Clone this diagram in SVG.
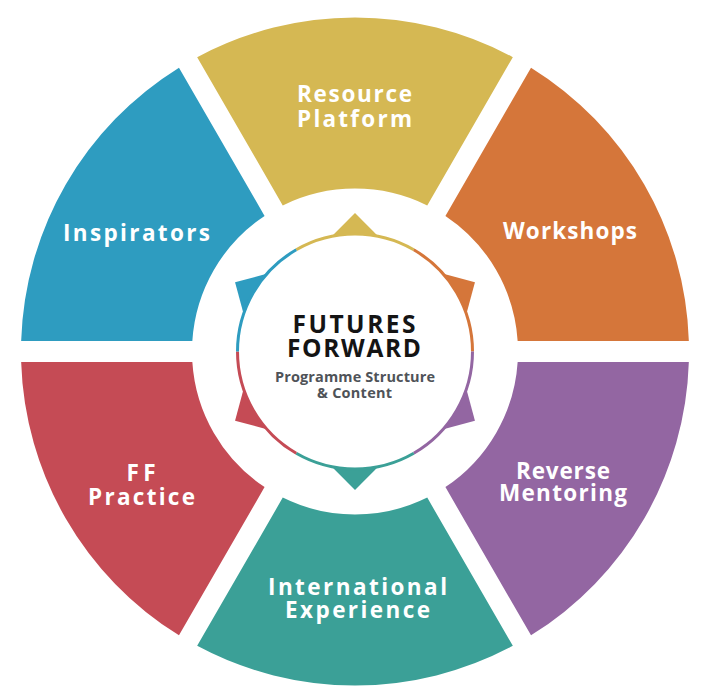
<svg xmlns="http://www.w3.org/2000/svg" xmlns:xlink="http://www.w3.org/1999/xlink" width="709" height="697" viewBox="0 0 709 697">
  <style>
    .lbl { font-family: "Open Sans", Lato, "Liberation Sans", sans-serif; font-weight: 700; font-size: 22.5px; fill: #ffffff; text-anchor: middle; }
    .title { font-family: "Open Sans", Lato, "Liberation Sans", sans-serif; font-weight: 700; font-size: 24.5px; fill: #141414; text-anchor: middle; }
    .sub { font-family: "Open Sans", Lato, "Liberation Sans", sans-serif; font-weight: 700; font-size: 14.5px; fill: #4f5358; text-anchor: middle; }
    .ring { fill: none; stroke-width: 3; }
    .yellow { fill: #D5B853; } .yellowS { stroke: #D5B853; }
    .orange { fill: #D5763A; } .orangeS { stroke: #D5763A; }
    .purple { fill: #9366A2; } .purpleS { stroke: #9366A2; }
    .teal { fill: #3BA097; } .tealS { stroke: #3BA097; }
    .red { fill: #C54B55; } .redS { stroke: #C54B55; }
    .blue { fill: #2E9CC0; } .blueS { stroke: #2E9CC0; }
  </style>
  <defs>
    <polygon id="tri" points="0,-138.5 -22.4,-116 22.4,-116"/>
  </defs>
  <rect width="709" height="697" fill="#ffffff"/>

  <g id="connectors"></g>

  <!-- triangles drawn beneath the central circle -->
  <g id="star">
    <use xlink:href="#tri" class="yellow" transform="translate(355,351.5) rotate(0)"/>
    <use xlink:href="#tri" class="orange" transform="translate(355,351.5) rotate(60)"/>
    <use xlink:href="#tri" class="purple" transform="translate(355,351.5) rotate(120)"/>
    <use xlink:href="#tri" class="teal" transform="translate(355,351.5) rotate(180)"/>
    <use xlink:href="#tri" class="red" transform="translate(355,351.5) rotate(240)"/>
    <use xlink:href="#tri" class="blue" transform="translate(355,351.5) rotate(300)"/>
  </g>

  <g id="center">
    <circle cx="355" cy="351.5" r="117.5" fill="#ffffff"/>
    <path class="ring yellowS" d="M 296.25 249.74 A 117.5 117.5 0 0 1 413.75 249.74"/>
    <path class="ring orangeS" d="M 413.75 249.74 A 117.5 117.5 0 0 1 472.5 351.5"/>
    <path class="ring purpleS" d="M 472.5 351.5 A 117.5 117.5 0 0 1 413.75 453.26"/>
    <path class="ring tealS" d="M 413.75 453.26 A 117.5 117.5 0 0 1 296.25 453.26"/>
    <path class="ring redS" d="M 296.25 453.26 A 117.5 117.5 0 0 1 237.5 351.5"/>
    <path class="ring blueS" d="M 237.5 351.5 A 117.5 117.5 0 0 1 296.25 249.74"/>
    <text class="title" x="354" y="333" textLength="123" lengthAdjust="spacing">FUTURES</text>
    <text class="title" x="354" y="357" textLength="134" lengthAdjust="spacing">FORWARD</text>
    <text class="sub" x="355" y="382" textLength="160" lengthAdjust="spacing">Programme Structure</text>
    <text class="sub" x="354.5" y="398" textLength="75" lengthAdjust="spacing">&amp; Content</text>
  </g>

  <g id="resource-platform">
    <path class="yellow" d="M 197.17 57.15 A 334 334 0 0 1 512.83 57.15 L 427.24 205.38 A 163 163 0 0 0 282.76 205.38 Z"/>
    <text class="lbl" x="354.5" y="102" textLength="115" lengthAdjust="spacing">Resource</text>
    <text class="lbl" x="354.5" y="127" textLength="115" lengthAdjust="spacing">Platform</text>
  </g>

  <g id="workshops">
    <path class="orange" d="M 531.02 67.64 A 334 334 0 0 1 688.84 341.01 L 517.66 341.01 A 163 163 0 0 0 445.42 215.88 Z"/>
    <text class="lbl" x="570" y="239" textLength="134" lengthAdjust="spacing">Workshops</text>
  </g>

  <g id="reverse-mentoring">
    <path class="purple" d="M 688.84 361.99 A 334 334 0 0 1 531.02 635.36 L 445.42 487.12 A 163 163 0 0 0 517.66 361.99 Z"/>
    <text class="lbl" x="563" y="479" textLength="94" lengthAdjust="spacing">Reverse</text>
    <text class="lbl" x="563" y="501" textLength="128" lengthAdjust="spacing">Mentoring</text>
  </g>

  <g id="international-experience">
    <path class="teal" d="M 512.83 645.85 A 334 334 0 0 1 197.17 645.85 L 282.76 497.62 A 163 163 0 0 0 427.24 497.62 Z"/>
    <text class="lbl" x="357.5" y="595" textLength="179" lengthAdjust="spacing">International</text>
    <text class="lbl" x="357.5" y="618" textLength="145" lengthAdjust="spacing">Experience</text>
  </g>

  <g id="ff-practice">
    <path class="red" d="M 178.98 635.36 A 334 334 0 0 1 21.16 361.99 L 192.34 361.99 A 163 163 0 0 0 264.58 487.12 Z"/>
    <text class="lbl" x="141" y="481" textLength="29" lengthAdjust="spacing">FF</text>
    <text class="lbl" x="141.5" y="505" textLength="107" lengthAdjust="spacing">Practice</text>
  </g>

  <g id="inspirators">
    <path class="blue" d="M 21.16 341.01 A 334 334 0 0 1 178.98 67.64 L 264.58 215.88 A 163 163 0 0 0 192.34 341.01 Z"/>
    <text class="lbl" x="136.5" y="241" textLength="147" lengthAdjust="spacing">Inspirators</text>
  </g>
</svg>
